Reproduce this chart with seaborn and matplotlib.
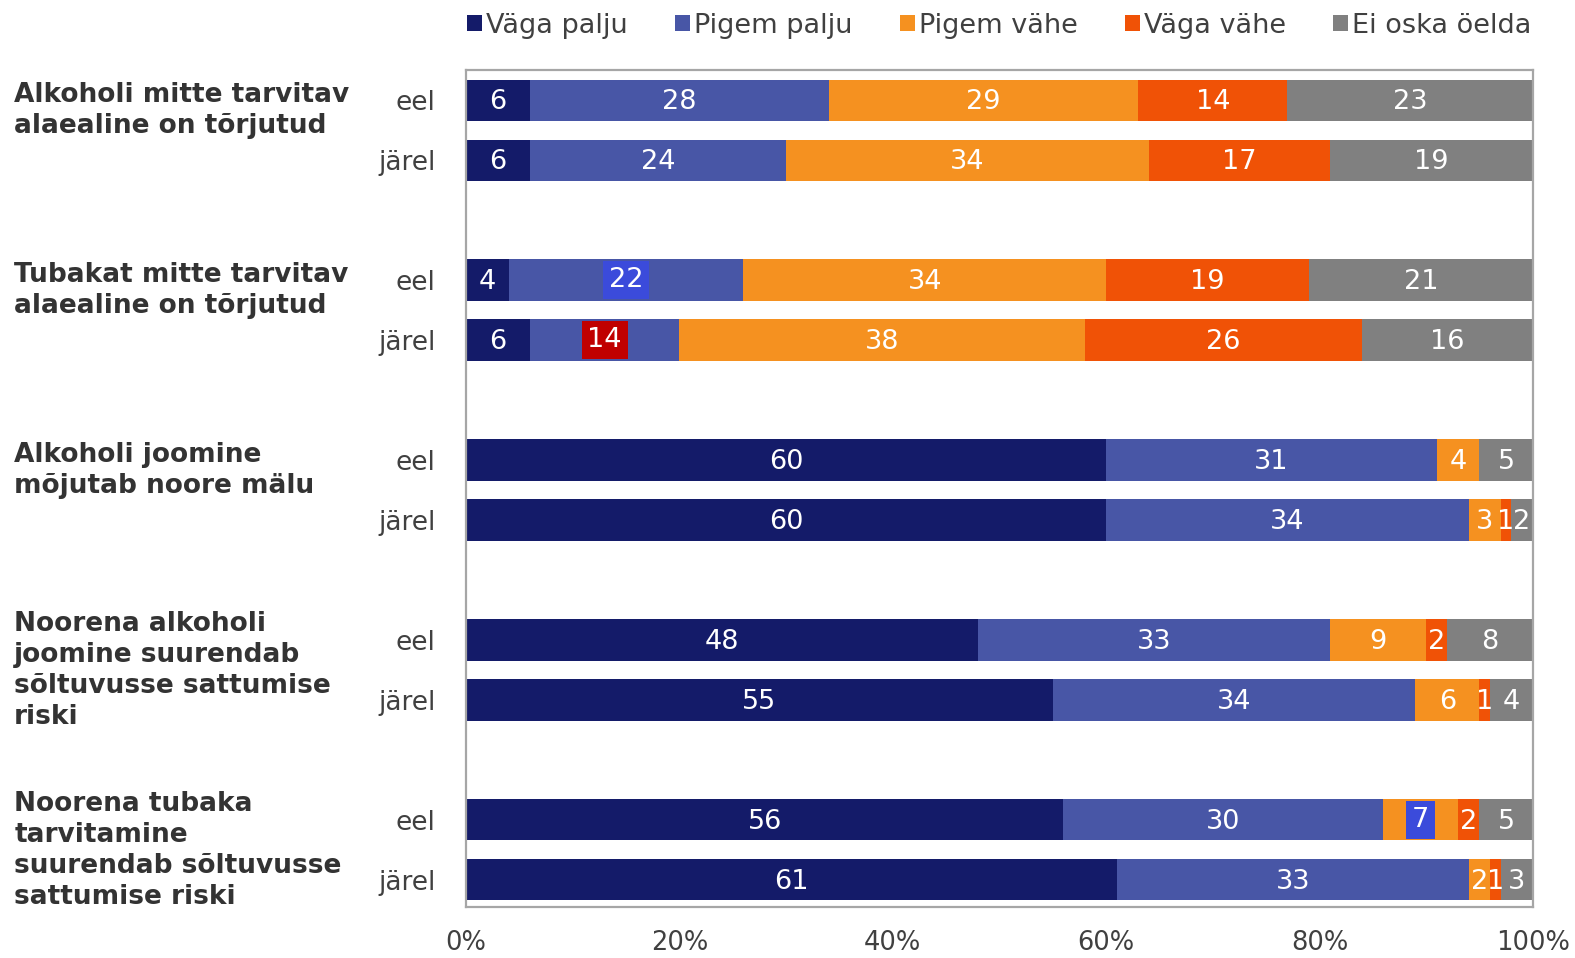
import numpy as np
import pandas as pd
import matplotlib
matplotlib.use('Agg')
import matplotlib.pyplot as plt
from matplotlib.patches import Patch
from matplotlib.transforms import blended_transform_factory
import seaborn as sns

#Statements (group labels), one per pair of bars
statements = [
    'Alkoholi mitte tarvitav\nalaealine on tõrjutud',
    'Tubakat mitte tarvitav\nalaealine on tõrjutud',
    'Alkoholi joomine\nmõjutab noore mälu',
    'Noorena alkoholi\njoomine suurendab\nsõltuvusse sattumise\nriski',
    'Noorena tubaka\ntarvitamine\nsuurendab sõltuvusse\nsattumise riski',
]
periods = ['eel', 'järel']
answers = ['Väga palju', 'Pigem palju', 'Pigem vähe', 'Väga vähe', 'Ei oska öelda']

#Shares (%) per bar, order: eel, järel for each statement
vaga_palju = [6, 6, 4, 6, 60, 60, 48, 55, 56, 61]
pigem_palju = [28, 24, 22, 14, 31, 34, 33, 34, 30, 33]
pigem_vahe = [29, 34, 34, 38, 4, 3, 9, 6, 7, 2]
vaga_vahe = [14, 17, 19, 26, 0, 1, 2, 1, 2, 1]
ei_oska = [23, 19, 21, 16, 5, 2, 8, 4, 5, 3]

#Data labels that have a filled box in the original (bar index, answer index, box colour)
boxed_labels = [(2, 1, '#3B4BDB'), (3, 1, '#C00000'), (8, 2, '#3B4BDB')]

colors = ['#141B69', '#4856A6', '#F59120', '#F05206', '#808080']
text_col = '#404040'

values = np.array([vaga_palju, pigem_palju, pigem_vahe, vaga_vahe, ei_oska]).T
cum = values.cumsum(axis=1)

#Bar positions: pairs with an empty slot between statements
pos = []
for i in range(len(statements)):
    pos += [3 * i, 3 * i + 1]
pos = np.array(pos, dtype=float)

df = pd.DataFrame(cum, columns=answers)
df['pos'] = pos

sns.set_theme(style='white')
plt.rcParams['font.family'] = ['DejaVu Sans']

fig = plt.figure(figsize=(15.75, 9.58), dpi=100)
ax = fig.add_axes([0.2959, 0.0535, 0.6773, 0.8731])

#Stacked bars: draw cumulative totals from the longest to the shortest
for j in range(len(answers) - 1, -1, -1):
    sns.barplot(data=df, x=answers[j], y='pos', orient='h', native_scale=True,
                color=colors[j], saturation=1, width=0.69, edgecolor='none',
                linewidth=0, ax=ax)

#Value labels in the middle of each segment
boxes = {(b, a): c for b, a, c in boxed_labels}
for b in range(len(pos)):
    for a in range(len(answers)):
        v = values[b, a]
        if v <= 0:
            continue
        xc = cum[b, a] - v / 2
        if (b, a) in boxes:
            ax.text(xc, pos[b], str(v), ha='center', va='center', color='white',
                    fontsize=19.5,
                    bbox=dict(boxstyle='square,pad=0.22', fc=boxes[(b, a)], ec='none'))
        else:
            ax.text(xc, pos[b] + 0.03, str(v), ha='center', va='center', color='white',
                    fontsize=19.5)

ax.set_xlim(0, 100)
ax.set_ylim(13.45, -0.5)
ax.set_xticks(np.arange(0, 101, 20))
ax.set_xticklabels([f'{t}%' for t in range(0, 101, 20)], fontsize=18.5, color=text_col)
ax.set_yticks(pos)
ax.set_yticklabels(periods * len(statements), fontsize=19, color=text_col)
ax.set_xlabel('')
ax.set_ylabel('')
ax.tick_params(axis='x', length=0, pad=17)
ax.tick_params(axis='y', length=0, pad=22)
for s in ax.spines.values():
    s.set_color('#A6A6A6')
    s.set_linewidth(1.6)

#Statement labels on the far left
trans = blended_transform_factory(fig.transFigure, ax.transData)
for i, st in enumerate(statements):
    nlines = st.count('\n') + 1
    fig.text(0.009, 3 * i + (nlines - 1) * 0.17, st, fontsize=19, fontweight='bold',
             color='#333333', ha='left', va='center', linespacing=1.25, transform=trans)

handles = [Patch(facecolor=c, edgecolor='none') for c in colors]
fig.legend(handles, answers, loc='upper right', bbox_to_anchor=(0.988, 1.012), ncol=5,
           frameon=False, fontsize=19.5, labelcolor=text_col, handlelength=0.55,
           handleheight=0.55, handletextpad=0.15, columnspacing=1.75)

fig.savefig('out.png', dpi=100)
